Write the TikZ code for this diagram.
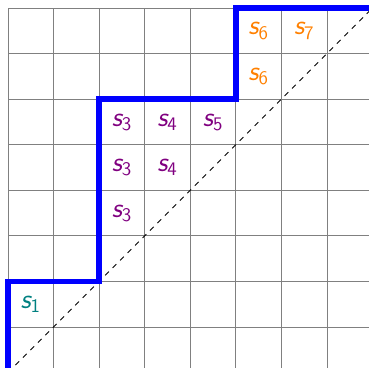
\documentclass[tikz,border=0pt]{standalone}
\tikzset{
  gridline/.style={draw=gray, line width=0.5pt},
  frontier/.style={draw=blue, line width=3.4pt, line join=miter},
  diag/.style={draw=black, line width=0.5pt, dash pattern=on 3.3pt off 3.3pt},
  lbl/.style={font=\fontsize{17.5}{21}\selectfont, inner sep=0pt},
}
\newcommand{\sx}[1]{$\textsf{\slshape s}_{\mathsf{#1}}$}
\begin{document}
\begin{tikzpicture}[x=1cm,y=1cm]
\useasboundingbox (-0.1756,0.1) rectangle (7.922,8.1756);
\clip (-0.1756,0.1) rectangle (7.922,8.1756);
\draw[gridline] (0,0) grid (8,8);
\draw[diag] (0,0) coordinate (d0) -- (8,8) coordinate (d1);
\draw[frontier] (0,0) -- (0,2) -- (2,2) -- (2,6) -- (5,6) -- (5,8) -- (8.5,8);
\node[lbl, text=teal] (a1) at (0.5,1.5) {\sx{1}};
\node[lbl, text=violet] (a3a) at (2.5,5.5) {\sx{3}};
\node[lbl, text=violet] (a3b) at (2.5,4.5) {\sx{3}};
\node[lbl, text=violet] (a3c) at (2.5,3.5) {\sx{3}};
\node[lbl, text=violet] (a4a) at (3.5,5.5) {\sx{4}};
\node[lbl, text=violet] (a4b) at (3.5,4.5) {\sx{4}};
\node[lbl, text=violet] (a5) at (4.5,5.5) {\sx{5}};
\node[lbl, text=orange] (a6a) at (5.5,7.5) {\sx{6}};
\node[lbl, text=orange] (a6b) at (5.5,6.5) {\sx{6}};
\node[lbl, text=orange] (a7) at (6.5,7.5) {\sx{7}};
\end{tikzpicture}
\end{document}
